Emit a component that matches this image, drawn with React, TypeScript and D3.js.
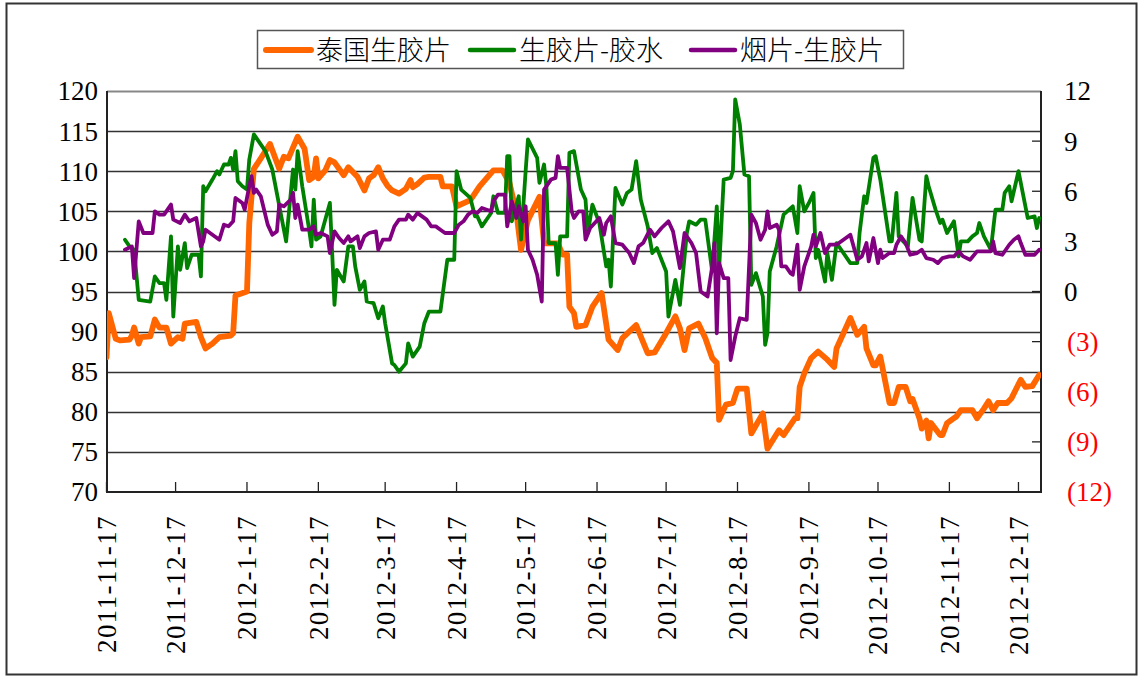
import React, { useEffect, useRef } from 'react';
import * as d3 from 'd3';

// 泰国生胶片 (left axis)
const thaiSheet: [string, number][] = [
  ["2011-11-17", 86.8], ["2011-11-18", 92.3], ["2011-11-21", 89.1], ["2011-11-23", 88.9], ["2011-11-27", 89.0],
  ["2011-11-28", 89.5], ["2011-11-29", 90.5], ["2011-12-01", 88.5], ["2011-12-02", 89.3], ["2011-12-06", 89.4],
  ["2011-12-08", 91.5], ["2011-12-10", 90.5], ["2011-12-13", 90.5], ["2011-12-15", 88.5], ["2011-12-18", 89.3],
  ["2011-12-20", 89.1], ["2011-12-21", 91.0], ["2011-12-26", 91.2], ["2011-12-28", 89.3], ["2011-12-30", 87.9],
  ["2012-01-02", 88.5], ["2012-01-05", 89.3], ["2012-01-10", 89.5], ["2012-01-11", 89.8], ["2012-01-12", 94.5],
  ["2012-01-17", 95.0], ["2012-01-18", 103.5], ["2012-01-20", 110.3], ["2012-01-23", 111.6], ["2012-01-27", 113.4],
  ["2012-01-31", 110.3], ["2012-02-02", 111.8], ["2012-02-04", 111.6], ["2012-02-08", 114.3], ["2012-02-11", 112.8],
  ["2012-02-13", 108.9], ["2012-02-15", 109.3], ["2012-02-16", 111.6], ["2012-02-17", 109.1], ["2012-02-20", 110.1],
  ["2012-02-22", 111.4], ["2012-02-24", 111.1], ["2012-02-28", 109.5], ["2012-03-01", 110.5], ["2012-03-05", 109.3],
  ["2012-03-08", 107.6], ["2012-03-10", 109.1], ["2012-03-12", 109.5], ["2012-03-14", 110.5], ["2012-03-16", 109.1],
  ["2012-03-18", 108.2], ["2012-03-20", 107.6], ["2012-03-23", 107.2], ["2012-03-26", 107.8], ["2012-03-28", 108.9],
  ["2012-03-29", 108.0], ["2012-03-31", 108.4], ["2012-04-03", 109.2], ["2012-04-05", 109.3], ["2012-04-10", 109.3],
  ["2012-04-11", 108.1], ["2012-04-15", 108.1], ["2012-04-17", 105.6], ["2012-04-23", 106.4], ["2012-04-27", 108.1],
  ["2012-05-03", 110.1], ["2012-05-07", 110.1], ["2012-05-10", 108.5], ["2012-05-13", 104.8], ["2012-05-15", 100.2],
  ["2012-05-18", 103.9], ["2012-05-23", 106.8], ["2012-05-25", 101.0], ["2012-05-31", 101.0], ["2012-06-02", 99.6],
  ["2012-06-04", 99.6], ["2012-06-05", 93.1], ["2012-06-07", 92.3], ["2012-06-08", 90.6], ["2012-06-12", 90.8],
  ["2012-06-15", 93.1], ["2012-06-19", 94.8], ["2012-06-22", 89.0], ["2012-06-26", 87.7], ["2012-06-28", 89.2],
  ["2012-07-04", 90.8], ["2012-07-09", 87.3], ["2012-07-12", 87.4], ["2012-07-17", 89.8], ["2012-07-21", 91.9],
  ["2012-07-23", 90.4], ["2012-07-25", 87.7], ["2012-07-27", 90.4], ["2012-07-31", 91.0], ["2012-08-03", 89.2],
  ["2012-08-06", 86.7], ["2012-08-08", 86.1], ["2012-08-09", 79.0], ["2012-08-12", 80.9], ["2012-08-15", 81.1],
  ["2012-08-17", 82.9], ["2012-08-21", 82.9], ["2012-08-23", 77.3], ["2012-08-28", 79.8], ["2012-08-30", 75.4],
  ["2012-09-04", 77.7], ["2012-09-06", 77.1], ["2012-09-11", 79.2], ["2012-09-12", 79.2], ["2012-09-13", 83.1],
  ["2012-09-15", 84.8], ["2012-09-18", 86.7], ["2012-09-21", 87.5], ["2012-09-25", 86.5], ["2012-09-28", 85.6],
  ["2012-09-29", 87.9], ["2012-10-05", 91.7], ["2012-10-08", 89.6], ["2012-10-11", 90.6], ["2012-10-12", 87.9],
  ["2012-10-15", 85.8], ["2012-10-16", 85.8], ["2012-10-18", 86.9], ["2012-10-22", 81.1], ["2012-10-24", 81.1],
  ["2012-10-26", 83.1], ["2012-10-29", 83.1], ["2012-10-31", 81.3], ["2012-11-01", 81.6], ["2012-11-04", 79.2],
  ["2012-11-05", 77.9], ["2012-11-07", 78.9], ["2012-11-08", 76.7], ["2012-11-09", 78.6], ["2012-11-13", 77.1],
  ["2012-11-14", 77.1], ["2012-11-16", 78.6], ["2012-11-19", 79.2], ["2012-11-20", 79.4], ["2012-11-22", 80.2],
  ["2012-11-27", 80.2], ["2012-11-29", 79.2], ["2012-12-02", 80.4], ["2012-12-04", 81.3], ["2012-12-06", 80.2],
  ["2012-12-08", 81.1], ["2012-12-12", 81.1], ["2012-12-14", 81.7], ["2012-12-18", 84.0], ["2012-12-20", 83.1],
  ["2012-12-23", 83.2], ["2012-12-26", 84.6],
];

// 生胶片-胶水 (right axis)
const sheetMinusLatex: [string, number][] = [
  ["2011-11-25", 3.1], ["2011-11-27", 2.7], ["2011-11-29", 2.5], ["2011-12-01", -0.5], ["2011-12-06", -0.6],
  ["2011-12-08", 0.9], ["2011-12-10", 0.5], ["2011-12-12", 0.5], ["2011-12-13", -0.5], ["2011-12-15", 3.3],
  ["2011-12-16", -1.5], ["2011-12-18", 2.7], ["2011-12-19", 1.3], ["2011-12-21", 2.9], ["2011-12-22", 1.4],
  ["2011-12-24", 2.2], ["2011-12-27", 2.2], ["2011-12-28", 0.9], ["2011-12-29", 6.3], ["2011-12-30", 6.0],
  ["2012-01-02", 6.7], ["2012-01-04", 7.2], ["2012-01-05", 7.0], ["2012-01-07", 7.6], ["2012-01-09", 7.6],
  ["2012-01-10", 8.0], ["2012-01-11", 7.3], ["2012-01-12", 8.4], ["2012-01-13", 6.6], ["2012-01-15", 6.3],
  ["2012-01-17", 6.1], ["2012-01-18", 7.9], ["2012-01-20", 9.4], ["2012-01-25", 8.4], ["2012-01-28", 7.3],
  ["2012-02-03", 3.0], ["2012-02-06", 7.3], ["2012-02-07", 6.1], ["2012-02-08", 8.4], ["2012-02-10", 6.3],
  ["2012-02-13", 3.7], ["2012-02-14", 2.7], ["2012-02-15", 5.5], ["2012-02-16", 3.1], ["2012-02-18", 3.3],
  ["2012-02-22", 5.3], ["2012-02-23", 2.3], ["2012-02-24", -0.8], ["2012-02-25", 1.3], ["2012-02-28", 0.6],
  ["2012-03-01", 2.7], ["2012-03-03", 2.7], ["2012-03-04", 1.5], ["2012-03-06", 0.1], ["2012-03-08", 0.6],
  ["2012-03-09", -0.6], ["2012-03-12", -0.7], ["2012-03-14", -1.6], ["2012-03-16", -0.9], ["2012-03-17", -1.9],
  ["2012-03-20", -4.3], ["2012-03-21", -4.4], ["2012-03-23", -4.8], ["2012-03-26", -4.3], ["2012-03-27", -3.1],
  ["2012-03-29", -3.9], ["2012-04-01", -3.3], ["2012-04-03", -1.9], ["2012-04-05", -1.2], ["2012-04-10", -1.2],
  ["2012-04-13", 1.9], ["2012-04-16", 1.9], ["2012-04-17", 7.2], ["2012-04-19", 6.1], ["2012-04-23", 5.6],
  ["2012-04-25", 4.5], ["2012-04-26", 4.5], ["2012-04-28", 3.9], ["2012-05-02", 4.7], ["2012-05-03", 5.7],
  ["2012-05-05", 4.7], ["2012-05-08", 4.7], ["2012-05-09", 8.1], ["2012-05-10", 8.1], ["2012-05-11", 4.2],
  ["2012-05-14", 5.7], ["2012-05-15", 3.1], ["2012-05-17", 7.2], ["2012-05-18", 9.1], ["2012-05-22", 8.0],
  ["2012-05-23", 6.5], ["2012-05-25", 7.6], ["2012-05-26", 6.3], ["2012-05-27", 2.9], ["2012-05-30", 2.9],
  ["2012-05-31", 1.0], ["2012-06-01", 3.3], ["2012-06-04", 3.3], ["2012-06-05", 8.3], ["2012-06-07", 8.4],
  ["2012-06-10", 6.1], ["2012-06-12", 5.5], ["2012-06-13", 3.5], ["2012-06-15", 5.2], ["2012-06-18", 4.1],
  ["2012-06-21", 1.5], ["2012-06-22", 1.9], ["2012-06-23", 0.3], ["2012-06-24", 3.3], ["2012-06-25", 6.2],
  ["2012-06-28", 5.2], ["2012-06-30", 5.9], ["2012-07-02", 6.1], ["2012-07-04", 7.8], ["2012-07-06", 5.5],
  ["2012-07-09", 3.9], ["2012-07-11", 2.3], ["2012-07-13", 2.6], ["2012-07-17", 1.2], ["2012-07-18", -1.5],
  ["2012-07-21", 0.7], ["2012-07-23", -0.8], ["2012-07-26", 3.5], ["2012-07-27", 4.2], ["2012-07-30", 4.0],
  ["2012-08-01", 4.3], ["2012-08-03", 4.3], ["2012-08-06", 1.2], ["2012-08-08", 5.1], ["2012-08-09", 1.3],
  ["2012-08-11", 6.7], ["2012-08-14", 6.8], ["2012-08-15", 7.2], ["2012-08-16", 11.5], ["2012-08-18", 10.0],
  ["2012-08-20", 7.0], ["2012-08-22", 6.9], ["2012-08-23", 0.4], ["2012-08-25", 1.1], ["2012-08-28", -0.3],
  ["2012-08-29", -3.2], ["2012-08-30", -2.5], ["2012-08-31", 1.2], ["2012-09-03", 2.7], ["2012-09-06", 4.6],
  ["2012-09-10", 5.1], ["2012-09-12", 3.5], ["2012-09-13", 6.3], ["2012-09-15", 4.8], ["2012-09-17", 5.3],
  ["2012-09-19", 5.9], ["2012-09-20", 2.0], ["2012-09-21", 2.5], ["2012-09-24", 0.6], ["2012-09-25", 2.3],
  ["2012-09-27", 0.7], ["2012-09-29", 2.9], ["2012-10-05", 1.7], ["2012-10-08", 1.7], ["2012-10-09", 3.5],
  ["2012-10-11", 5.7], ["2012-10-12", 5.3], ["2012-10-15", 8.0], ["2012-10-16", 8.1], ["2012-10-18", 6.7],
  ["2012-10-22", 3.0], ["2012-10-23", 3.0], ["2012-10-25", 5.9], ["2012-10-26", 3.3], ["2012-10-28", 3.0],
  ["2012-10-30", 2.7], ["2012-11-01", 5.6], ["2012-11-04", 3.1], ["2012-11-05", 3.0], ["2012-11-07", 6.9],
  ["2012-11-08", 6.3], ["2012-11-11", 4.9], ["2012-11-13", 4.1], ["2012-11-14", 4.3], ["2012-11-16", 3.5],
  ["2012-11-19", 4.2], ["2012-11-21", 2.1], ["2012-11-22", 3.0], ["2012-11-25", 3.0], ["2012-11-27", 3.3],
  ["2012-11-29", 3.5], ["2012-11-30", 4.1], ["2012-12-02", 3.3], ["2012-12-05", 2.5], ["2012-12-07", 4.9],
  ["2012-12-10", 4.9], ["2012-12-11", 5.9], ["2012-12-13", 6.3], ["2012-12-14", 5.4], ["2012-12-17", 7.2],
  ["2012-12-21", 4.4], ["2012-12-24", 4.5], ["2012-12-25", 3.8], ["2012-12-26", 4.4],
];

// 烟片-生胶片 (right axis)
const smokedMinusSheet: [string, number][] = [
  ["2011-11-25", 2.5], ["2011-11-28", 2.7], ["2011-11-29", 0.8], ["2011-12-01", 4.2], ["2011-12-03", 3.5],
  ["2011-12-07", 3.5], ["2011-12-08", 4.8], ["2011-12-10", 4.6], ["2011-12-12", 4.6], ["2011-12-15", 5.2],
  ["2011-12-16", 4.3], ["2011-12-19", 4.1], ["2011-12-21", 4.6], ["2011-12-23", 4.2], ["2011-12-26", 4.4],
  ["2011-12-28", 2.7], ["2011-12-29", 3.0], ["2011-12-30", 3.7], ["2012-01-02", 3.4], ["2012-01-05", 3.1],
  ["2012-01-07", 4.0], ["2012-01-09", 3.9], ["2012-01-11", 4.2], ["2012-01-12", 5.6], ["2012-01-15", 5.3],
  ["2012-01-16", 4.9], ["2012-01-18", 6.3], ["2012-01-19", 6.9], ["2012-01-20", 5.9], ["2012-01-21", 6.1],
  ["2012-01-23", 5.7], ["2012-01-26", 4.0], ["2012-01-28", 3.4], ["2012-01-30", 3.6], ["2012-01-31", 5.2],
  ["2012-02-02", 5.1], ["2012-02-05", 5.5], ["2012-02-06", 5.9], ["2012-02-07", 4.4], ["2012-02-08", 5.2],
  ["2012-02-10", 3.7], ["2012-02-13", 3.7], ["2012-02-15", 3.9], ["2012-02-16", 3.4], ["2012-02-18", 3.5],
  ["2012-02-21", 3.3], ["2012-02-22", 2.3], ["2012-02-24", 3.6], ["2012-02-26", 3.2], ["2012-02-28", 2.9],
  ["2012-03-01", 3.3], ["2012-03-02", 3.0], ["2012-03-05", 3.3], ["2012-03-06", 2.6], ["2012-03-08", 3.3],
  ["2012-03-10", 3.5], ["2012-03-13", 3.6], ["2012-03-14", 2.5], ["2012-03-16", 3.1], ["2012-03-19", 3.1],
  ["2012-03-21", 3.9], ["2012-03-23", 4.3], ["2012-03-26", 4.3], ["2012-03-27", 4.6], ["2012-03-29", 4.3],
  ["2012-03-31", 4.7], ["2012-04-01", 4.6], ["2012-04-04", 4.3], ["2012-04-06", 3.9], ["2012-04-08", 3.9],
  ["2012-04-10", 3.7], ["2012-04-12", 3.5], ["2012-04-16", 3.5], ["2012-04-18", 4.0], ["2012-04-20", 4.2],
  ["2012-04-22", 4.6], ["2012-04-24", 4.8], ["2012-04-26", 4.7], ["2012-04-28", 5.0], ["2012-05-02", 4.8],
  ["2012-05-03", 5.4], ["2012-05-05", 5.8], ["2012-05-08", 5.8], ["2012-05-09", 3.9], ["2012-05-11", 5.4],
  ["2012-05-13", 4.4], ["2012-05-14", 5.1], ["2012-05-16", 4.2], ["2012-05-17", 5.1], ["2012-05-18", 2.5],
  ["2012-05-20", 1.9], ["2012-05-22", 1.0], ["2012-05-24", -0.6], ["2012-05-25", 6.1], ["2012-05-28", 6.7],
  ["2012-05-30", 6.8], ["2012-05-31", 8.1], ["2012-06-01", 7.4], ["2012-06-04", 7.4], ["2012-06-06", 4.8],
  ["2012-06-07", 4.4], ["2012-06-09", 4.8], ["2012-06-11", 4.8], ["2012-06-12", 3.1], ["2012-06-14", 3.8],
  ["2012-06-16", 4.1], ["2012-06-18", 4.4], ["2012-06-20", 3.4], ["2012-06-21", 4.1], ["2012-06-23", 4.5],
  ["2012-06-25", 2.9], ["2012-06-28", 2.8], ["2012-07-01", 2.3], ["2012-07-03", 1.7], ["2012-07-05", 2.7],
  ["2012-07-07", 2.9], ["2012-07-10", 3.7], ["2012-07-12", 3.3], ["2012-07-15", 3.8], ["2012-07-18", 4.2],
  ["2012-07-20", 3.6], ["2012-07-23", 1.4], ["2012-07-25", 3.5], ["2012-07-28", 2.9], ["2012-07-30", 2.3],
  ["2012-08-01", 0.0], ["2012-08-04", -0.3], ["2012-08-06", 1.5], ["2012-08-07", 2.9], ["2012-08-08", -2.5],
  ["2012-08-09", 1.7], ["2012-08-11", 0.8], ["2012-08-13", 0.8], ["2012-08-14", -4.1], ["2012-08-16", -2.7],
  ["2012-08-18", -1.6], ["2012-08-21", -1.7], ["2012-08-23", 4.6], ["2012-08-25", 4.1], ["2012-08-27", 3.1],
  ["2012-08-29", 3.7], ["2012-08-30", 4.8], ["2012-08-31", 3.8], ["2012-09-03", 4.0], ["2012-09-04", 3.7],
  ["2012-09-05", 1.5], ["2012-09-07", 1.5], ["2012-09-09", 1.1], ["2012-09-10", 1.0], ["2012-09-12", 2.8],
  ["2012-09-13", 0.1], ["2012-09-15", 1.5], ["2012-09-18", 2.7], ["2012-09-19", 3.4], ["2012-09-20", 2.7],
  ["2012-09-22", 3.5], ["2012-09-24", 2.3], ["2012-09-26", 2.8], ["2012-09-29", 2.8], ["2012-10-02", 3.1],
  ["2012-10-05", 3.4], ["2012-10-08", 1.9], ["2012-10-10", 2.1], ["2012-10-12", 2.9], ["2012-10-13", 1.8],
  ["2012-10-15", 3.2], ["2012-10-17", 1.7], ["2012-10-18", 2.5], ["2012-10-19", 2.0], ["2012-10-22", 2.3],
  ["2012-10-24", 2.3], ["2012-10-25", 2.8], ["2012-10-27", 3.3], ["2012-10-29", 2.9], ["2012-10-31", 2.2],
  ["2012-11-03", 2.3], ["2012-11-05", 2.5], ["2012-11-07", 2.0], ["2012-11-10", 1.9], ["2012-11-12", 1.7],
  ["2012-11-14", 2.0], ["2012-11-17", 2.1], ["2012-11-19", 2.1], ["2012-11-21", 2.4], ["2012-11-23", 2.1],
  ["2012-11-26", 1.9], ["2012-11-29", 2.4], ["2012-12-05", 2.4], ["2012-12-06", 3.0], ["2012-12-07", 2.3],
  ["2012-12-10", 2.2], ["2012-12-13", 2.8], ["2012-12-15", 3.1], ["2012-12-17", 3.3], ["2012-12-18", 2.9],
  ["2012-12-20", 2.2], ["2012-12-24", 2.2], ["2012-12-26", 2.5],
];

const monthTicks = [
  "2011-11-17", "2011-12-17", "2012-1-17", "2012-2-17", "2012-3-17", "2012-4-17", "2012-5-17",
  "2012-6-17", "2012-7-17", "2012-8-17", "2012-9-17", "2012-10-17", "2012-11-17", "2012-12-17",
];
const leftTicks = [70, 75, 80, 85, 90, 95, 100, 105, 110, 115, 120];
const rightTicks = [-12, -9, -6, -3, 0, 3, 6, 9, 12];
const seriesNames = ["泰国生胶片", "生胶片-胶水", "烟片-生胶片"];
const seriesColors = ["#FF6600", "#008000", "#800080"];

function App() {
  const svgRef = useRef<SVGSVGElement>(null);

  useEffect(() => {
    if (!svgRef.current) return;
    document.body.style.margin = "0";

    const svg = d3.select(svgRef.current);
    svg.selectAll("*").remove();

    const numFont = "'Liberation Serif', 'Times New Roman', serif";
    const cjkFont = "'Noto Sans CJK SC', sans-serif";

    // plot area
    const left = 107, right = 1041, top = 91, bottom = 492;

    const parse = d3.timeParse("%Y-%m-%d");
    const x = d3
      .scaleTime()
      .domain([parse("2011-11-17")!, parse("2012-12-27")!])
      .range([106.5, 1041.5]);
    const yLeft = d3.scaleLinear().domain([70, 120]).range([bottom, top]);
    const yRight = d3.scaleLinear().domain([-12, 12]).range([bottom, top]);

    // outer frame
    svg.append("rect")
      .attr("x", 6.5).attr("y", 3.5)
      .attr("width", 1130).attr("height", 671)
      .attr("fill", "white")
      .attr("stroke", "#333").attr("stroke-width", 2);

    // gridlines
    svg.append("g")
      .selectAll("line")
      .data(leftTicks.filter(v => v > 70))
      .join("line")
      .attr("x1", left).attr("x2", right)
      .attr("y1", d => Math.round(yLeft(d)) + 0.5)
      .attr("y2", d => Math.round(yLeft(d)) + 0.5)
      .attr("stroke", d => (d === 120 ? "#888" : "#333"))
      .attr("stroke-width", d => (d === 120 ? 2 : 1.3));

    // axis lines
    const axisG = svg.append("g").attr("stroke", "#222").attr("stroke-width", 2);
    axisG.append("line").attr("x1", left).attr("x2", left).attr("y1", top).attr("y2", bottom);
    axisG.append("line").attr("x1", right).attr("x2", right).attr("y1", top).attr("y2", bottom);
    axisG.append("line").attr("x1", left - 1).attr("x2", right + 1).attr("y1", bottom).attr("y2", bottom);

    // bottom ticks (inside)
    svg.append("g")
      .selectAll("line")
      .data(monthTicks)
      .join("line")
      .attr("x1", d => x(parse(d)!))
      .attr("x2", d => x(parse(d)!))
      .attr("y1", bottom).attr("y2", bottom - 10)
      .attr("stroke", "#222").attr("stroke-width", 1.3);

    // right ticks (inside)
    svg.append("g")
      .selectAll("line")
      .data(rightTicks.filter(v => Math.abs(v) < 12))
      .join("line")
      .attr("x1", right - 9).attr("x2", right)
      .attr("y1", d => yRight(d)).attr("y2", d => yRight(d))
      .attr("stroke", "#222").attr("stroke-width", 1.3);

    // left labels
    svg.append("g")
      .selectAll("text")
      .data(leftTicks)
      .join("text")
      .attr("x", 98)
      .attr("y", d => yLeft(d))
      .attr("dy", "0.35em")
      .attr("text-anchor", "end")
      .style("font-family", numFont)
      .style("font-size", "27px")
      .attr("fill", "#000")
      .text(d => String(d));

    // right labels
    svg.append("g")
      .selectAll("text")
      .data(rightTicks)
      .join("text")
      .attr("x", d => (d < 0 ? 1067 : 1064))
      .attr("y", d => yRight(d))
      .attr("dy", "0.35em")
      .attr("text-anchor", "start")
      .style("font-family", numFont)
      .style("font-size", "27px")
      .attr("fill", d => (d < 0 ? "#FF0000" : "#000"))
      .text(d => (d < 0 ? `(${-d})` : String(d)));

    // bottom labels, rotated
    svg.append("g")
      .selectAll("text")
      .data(monthTicks)
      .join("text")
      .attr("transform", d => `translate(${x(parse(d)!)},515) rotate(-90)`)
      .attr("dy", "0.35em")
      .attr("text-anchor", "end")
      .style("font-family", numFont)
      .style("font-size", "27px")
      .style("letter-spacing", "1.4px")
      .attr("fill", "#000")
      .text(d => d);

    // series lines
    const clip = svg.append("clipPath").attr("id", "plot-clip");
    clip.append("rect").attr("x", left).attr("y", top - 6).attr("width", right - left).attr("height", bottom - top + 6);

    const lineLeft = d3.line<[string, number]>()
      .x(d => x(parse(d[0])!))
      .y(d => yLeft(d[1]));
    const lineRight = d3.line<[string, number]>()
      .x(d => x(parse(d[0])!))
      .y(d => yRight(d[1]));

    const series = [
      { data: thaiSheet, line: lineLeft, color: seriesColors[0], width: 5.8 },
      { data: sheetMinusLatex, line: lineRight, color: seriesColors[1], width: 3.8 },
      { data: smokedMinusSheet, line: lineRight, color: seriesColors[2], width: 3.8 },
    ];

    const lines = svg.append("g").attr("clip-path", "url(#plot-clip)");
    series.forEach(s => {
      lines.append("path")
        .attr("d", s.line(s.data))
        .attr("fill", "none")
        .attr("stroke", s.color)
        .attr("stroke-width", s.width)
        .attr("stroke-linejoin", "round")
        .attr("stroke-linecap", "round");
    });

    // legend
    const legend = svg.append("g");
    legend.append("rect")
      .attr("x", 257.5).attr("y", 30.5)
      .attr("width", 646).attr("height", 38)
      .attr("fill", "white")
      .attr("stroke", "#555").attr("stroke-width", 1.5);

    const legendItems = [
      { x1: 266, x2: 311, tx: 316 },
      { x1: 470, x2: 514, tx: 519 },
      { x1: 691, x2: 735, tx: 740 },
    ];
    seriesNames.forEach((name, i) => {
      const it = legendItems[i];
      legend.append("line")
        .attr("x1", it.x1).attr("x2", it.x2)
        .attr("y1", 50).attr("y2", 50)
        .attr("stroke", seriesColors[i])
        .attr("stroke-width", i === 0 ? 6 : 4.5)
        .attr("stroke-linecap", "round");
      legend.append("text")
        .attr("x", it.tx).attr("y", 50)
        .attr("dy", "0.36em")
        .style("font-family", cjkFont)
        .style("font-size", "27px")
        .style("font-weight", 300)
        .attr("fill", "#000")
        .text(name);
    });
  }, []);

  return <svg ref={svgRef} width={1140} height={677} style={{ display: "block", background: "white" }} />;
}

export default App;
